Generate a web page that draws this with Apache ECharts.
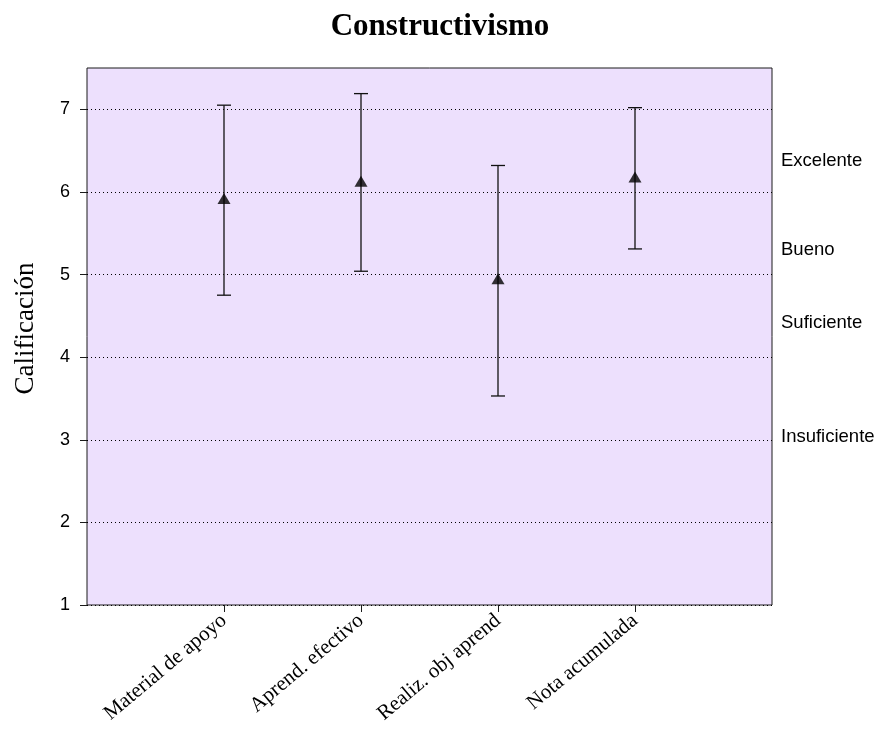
<!DOCTYPE html>
<html>
<head>
<meta charset="utf-8">
<script src="https://cdn.jsdelivr.net/npm/echarts@6/dist/echarts.min.js"></script>
<style>
  html, body { margin: 0; padding: 0; background: #fff; }
  #chart { width: 880px; height: 738px; }
</style>
</head>
<body>
<div id="chart"></div>
<script>
// Categories (blank slots at both ends leave margins inside the plot)
const categories = ['', 'Material de apoyo', 'Aprend. efectivo', 'Realiz. obj aprend', 'Nota acumulada', ''];
const means = [5.92, 6.13, 4.95, 6.18];
const upper = [7.05, 7.19, 6.32, 7.02];
const lower = [4.75, 5.04, 3.53, 5.31];
const yTicks = [1, 2, 3, 4, 5, 6, 7];
// Qualitative grade bands printed on the right side
const bandNames = ['Excelente', 'Bueno', 'Suficiente', 'Insuficiente'];
const bandValues = [6.38, 5.30, 4.42, 3.03];

const chart = echarts.init(document.getElementById('chart'));

const meanData = means.map((v, i) => [categories[i + 1], v]);
const barData = upper.map((u, i) => [categories[i + 1], lower[i], u]);

const option = {
  backgroundColor: '#ffffff',
  animation: false,
  title: {
    text: 'Constructivismo',
    left: 'center',
    top: 6,
    textStyle: { fontFamily: 'Liberation Serif', fontWeight: 'bold', fontSize: 31, color: '#000' }
  },
  grid: {
    left: 87, right: 108, top: 68, bottom: 133,
    outerBoundsMode: 'none',
    containLabel: false,
    show: true,
    backgroundColor: '#ede0fd',
    borderColor: '#1a1a1a',
    borderWidth: 1
  },
  xAxis: {
    type: 'category',
    data: categories,
    boundaryGap: false,
    axisLine: { show: false },
    axisTick: {
      show: true, length: 7, inside: false,
      interval: (idx) => idx >= 1 && idx <= 4,
      lineStyle: { color: '#1a1a1a' }
    },
    axisLabel: {
      interval: 0,
      rotate: 40,
      margin: 13,
      fontFamily: 'Liberation Serif',
      fontSize: 21,
      color: '#000'
    },
    splitLine: { show: false }
  },
  yAxis: [
    {
      type: 'value',
      min: 1, max: 7.5,
      name: 'Calificación',
      nameLocation: 'middle',
      nameRotate: 90,
      nameGap: 48,
      nameTextStyle: { fontFamily: 'Liberation Serif', fontSize: 27, color: '#000', padding: [0, 0, 0, 16] },
      axisLine: { show: false },
      axisTick: { show: true, length: 7, customValues: yTicks, lineStyle: { color: '#1a1a1a' } },
      axisLabel: { customValues: yTicks, margin: 17, fontFamily: 'Liberation Sans', fontSize: 18, color: '#000' },
      splitLine: { show: true, lineStyle: { color: '#000', type: [1, 3], width: 1 } }
    },
    {
      type: 'value',
      min: 1, max: 7.5,
      position: 'right',
      axisLine: { show: false },
      axisTick: { show: false },
      splitLine: { show: false },
      axisLabel: {
        customValues: bandValues,
        margin: 9,
        fontFamily: 'Liberation Sans',
        fontSize: 18.5,
        color: '#000',
        formatter: (v) => {
          const i = bandValues.indexOf(v);
          return i >= 0 ? bandNames[i] : '';
        }
      }
    }
  ],
  series: [
    {
      type: 'custom',
      data: barData,
      z: 2,
      renderItem: (params, api) => {
        const x = api.value(0);
        const lo = api.coord([x, api.value(1)]);
        const hi = api.coord([x, api.value(2)]);
        const half = 7;
        const style = { stroke: '#111', lineWidth: 1.3 };
        return {
          type: 'group',
          children: [
            { type: 'line', shape: { x1: lo[0], y1: lo[1], x2: hi[0], y2: hi[1] }, style },
            { type: 'line', shape: { x1: hi[0] - half, y1: hi[1], x2: hi[0] + half, y2: hi[1] }, style },
            { type: 'line', shape: { x1: lo[0] - half, y1: lo[1], x2: lo[0] + half, y2: lo[1] }, style }
          ]
        };
      }
    },
    {
      type: 'scatter',
      data: meanData,
      z: 3,
      symbol: 'triangle',
      symbolSize: [13, 11],
      itemStyle: { color: '#000' }
    }
  ]
};

chart.setOption(option);
</script>
</body>
</html>
